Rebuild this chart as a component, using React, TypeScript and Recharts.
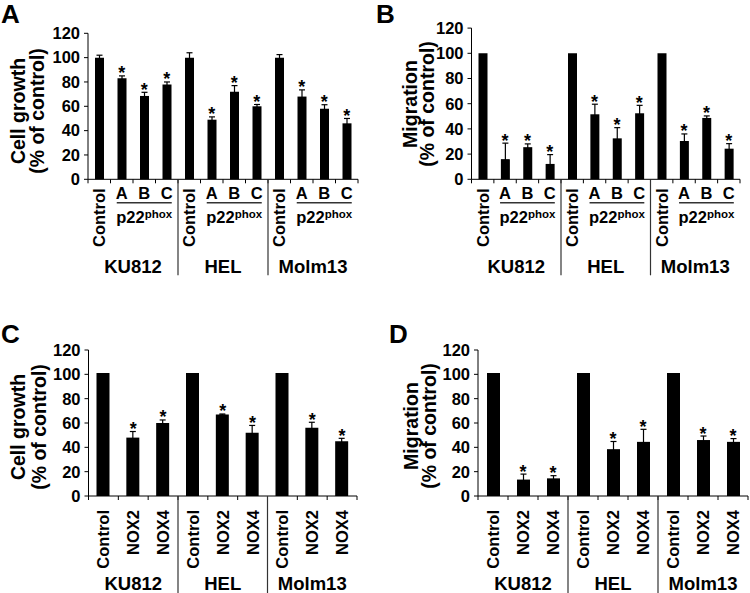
import React from 'react';
import { ComposedChart, Bar, Line, XAxis, YAxis, ErrorBar, LabelList } from 'recharts';

const FONT = '"Liberation Sans", Arial, Helvetica, sans-serif';

const cellLines = ['KU812', 'HEL', 'Molm13'];
const shLabels = ['Control', 'A', 'B', 'C'];
const noxLabels = ['Control', 'NOX2', 'NOX4'];
const yTicks = [0, 20, 40, 60, 80, 100, 120];

// A - cell growth, p22phox shRNA A/B/C
const growthShMean = [100, 83, 68.5, 78, 100, 49, 72, 60, 100, 68, 58, 46];
const growthShErr = [2, 2, 3, 2, 4, 2.3, 5, 1.5, 2.5, 5.5, 3.3, 4];
// B - migration, p22phox shRNA A/B/C
const migShMean = [100, 16, 25.5, 12.2, 100, 51.6, 32.5, 52.4, 100, 30.4, 48.7, 24.3];
const migShErr = [0, 12.7, 2.6, 7.4, 0, 8, 8.5, 6.3, 0, 5.6, 1.6, 4];
// C - cell growth, NOX2 / NOX4
const growthNoxMean = [101, 48, 60, 101, 67, 52, 101, 56, 45];
const growthNoxErr = [0, 5, 2.5, 0, 0.4, 6, 0, 4.6, 2.4];
// D - migration, NOX2 / NOX4
const migNoxMean = [101, 13.5, 14.5, 101, 38.5, 44.5, 101, 46, 44.5];
const migNoxErr = [0, 4.5, 2.2, 0, 6.3, 10.3, 0, 3.3, 2.7];

type Row = { id: string; label: string; mean: number; err: number; star: number | null };

const buildRows = (labels: string[], mean: number[], err: number[]): Row[] =>
  cellLines.flatMap((cl, g) =>
    labels.map((lab, j) => {
      const i = g * labels.length + j;
      return {
        id: `${cl}-${lab}`,
        label: lab,
        mean: mean[i],
        err: err[i],
        // every knockdown bar is marked significant
        star: lab === 'Control' ? null : mean[i] + err[i],
      };
    })
  );

const renderStar = (props: any) => {
  const { x, y, value } = props;
  if (value == null || y == null || isNaN(y)) return null;
  return (
    <text x={x} y={y + 3.5} textAnchor="middle" fontSize={18} fontWeight="bold" fontFamily={FONT} fill="#000">
      *
    </text>
  );
};

interface PanelProps {
  rows: Row[];
  labels: string[];
  kind: 'sh' | 'nox';
  left: number;
  top: number;
  width: number;
  height: number;
  margin: { top: number; right: number; bottom: number; left: number };
  barSize: number;
  labelDrop: number;
  sepLen: number;
}

const Panel: React.FC<PanelProps> = ({ rows, labels, kind, left, top, width, height, margin, barSize, labelDrop, sepLen }) => {
  const yAxisW = 40;
  const plotW = width - margin.left - margin.right - yAxisW;
  const band = plotW / rows.length;
  const half = band / 2;
  const n = labels.length;

  const renderTick = (props: any) => {
    const { x, y, index } = props;
    const lab = rows[index]?.label ?? '';
    const j = index % n;
    const g = Math.floor(index / n);
    const bx = x + 6;
    const els: React.ReactNode[] = [];
    els.push(<line key="t" x1={x - half} x2={x - half} y1={y} y2={y + 4} stroke="#000" />);
    if (index === rows.length - 1) {
      els.push(<line key="te" x1={x + half} x2={x + half} y1={y} y2={y + 4} stroke="#000" />);
    }
    if (j === 0) {
      if (g > 0) {
        els.push(<line key="sep" x1={x - half} x2={x - half} y1={y} y2={y + sepLen} stroke="#333" strokeWidth={1.2} />);
      }
      els.push(
        <text key="g" x={x - half + n * half} y={y + 94} textAnchor="middle" fontSize={18.5} fontWeight="bold" fontFamily={FONT} fill="#000">
          {cellLines[g]}
        </text>
      );
    }
    if (kind === 'nox' || lab === 'Control') {
      els.push(
        <text key="l" x={bx} y={y + labelDrop} transform={`rotate(-90, ${bx}, ${y + labelDrop})`} textAnchor="end" fontSize={16.5} fontWeight="bold" fontFamily={FONT} fill="#000">
          {lab}
        </text>
      );
    } else {
      els.push(
        <text key="l" x={x} y={y + 20} textAnchor="middle" fontSize={16.5} fontWeight="bold" fontFamily={FONT} fill="#000">
          {lab}
        </text>
      );
      if (lab === 'B') {
        els.push(<line key="u" x1={x - band - 5} x2={x + band + 5} y1={y + 23.5} y2={y + 23.5} stroke="#333" strokeWidth={1.5} />);
        els.push(
          <text key="p" x={x} y={y + 44} textAnchor="middle" fontWeight="bold" fontFamily={FONT} fill="#000">
            <tspan fontSize={16.5}>p22</tspan>
            <tspan fontSize={11.5} dy={-5}>phox</tspan>
          </text>
        );
      }
    }
    return <g>{els}</g>;
  };

  return (
    <div style={{ position: 'absolute', left, top, width, height }}>
      <ComposedChart width={width} height={height} data={rows} margin={margin}>
        <XAxis
          dataKey="id"
          interval={0}
          tick={renderTick}
          tickLine={false}
          tickSize={0}
          tickMargin={0}
          height={30}
          axisLine={{ stroke: '#000' }}
        />
        <YAxis
          width={yAxisW}
          domain={[0, 120]}
          ticks={yTicks}
          interval={0}
          tickSize={4}
          tickMargin={4}
          axisLine={{ stroke: '#000' }}
          tickLine={{ stroke: '#000' }}
          tick={{ fill: '#000', fontSize: 16.5, fontWeight: 'bold', fontFamily: FONT }}
        />
        <Bar dataKey="mean" fill="#000" barSize={barSize} isAnimationActive={false}>
          <ErrorBar dataKey="err" width={3} stroke="#000" strokeWidth={1.2} direction="y" />
        </Bar>
        <Line dataKey="star" stroke="none" dot={false} activeDot={false} legendType="none" isAnimationActive={false}>
          <LabelList dataKey="star" content={renderStar} />
        </Line>
      </ComposedChart>
    </div>
  );
};

const YTitle: React.FC<{ x1: number; x2: number; cy: number; line1: string }> = ({ x1, x2, cy, line1 }) => (
  <g fontFamily={FONT} fontWeight="bold" fontSize={19.5} fill="#000" textAnchor="middle">
    <text x={x1} y={cy} transform={`rotate(-90, ${x1}, ${cy})`}>{line1}</text>
    <text x={x2} y={cy} transform={`rotate(-90, ${x2}, ${cy})`}>(% of control)</text>
  </g>
);

export default function App() {
  const rowsA = buildRows(shLabels, growthShMean, growthShErr);
  const rowsB = buildRows(shLabels, migShMean, migShErr);
  const rowsC = buildRows(noxLabels, growthNoxMean, growthNoxErr);
  const rowsD = buildRows(noxLabels, migNoxMean, migNoxErr);

  return (
    <div style={{ position: 'absolute', left: 0, top: 0, width: 750, height: 593, background: '#fff', overflow: 'hidden' }}>
      <Panel rows={rowsA} labels={shLabels} kind="sh" left={0} top={0} width={375} height={300}
        margin={{ top: 33.3, right: 17, bottom: 90.7, left: 48 }} barSize={9} labelDrop={9} sepLen={96} />
      <Panel rows={rowsB} labels={shLabels} kind="sh" left={375} top={0} width={375} height={300}
        margin={{ top: 28.1, right: 10, bottom: 90.7, left: 56.5 }} barSize={9} labelDrop={9} sepLen={96} />
      <Panel rows={rowsC} labels={noxLabels} kind="nox" left={0} top={300} width={375} height={293}
        margin={{ top: 50, right: 18, bottom: 67, left: 48.5 }} barSize={13} labelDrop={14} sepLen={97} />
      <Panel rows={rowsD} labels={noxLabels} kind="nox" left={375} top={300} width={375} height={293}
        margin={{ top: 50, right: 2, bottom: 67, left: 63 }} barSize={13} labelDrop={14} sepLen={97} />
      <svg width={750} height={593} style={{ position: 'absolute', left: 0, top: 0, pointerEvents: 'none' }}>
        <g fontFamily={FONT} fontWeight="bold" fontSize={26} fill="#000">
          <text x={1} y={23}>A</text>
          <text x={376} y={23}>B</text>
          <text x={1} y={343}>C</text>
          <text x={389} y={343}>D</text>
        </g>
        <YTitle x1={25} x2={44} cy={111} line1="Cell growth" />
        <YTitle x1={417} x2={434} cy={104} line1="Migration" />
        <YTitle x1={25} x2={46} cy={427} line1="Cell growth" />
        <YTitle x1={418} x2={436} cy={426} line1="Migration" />
      </svg>
    </div>
  );
}
